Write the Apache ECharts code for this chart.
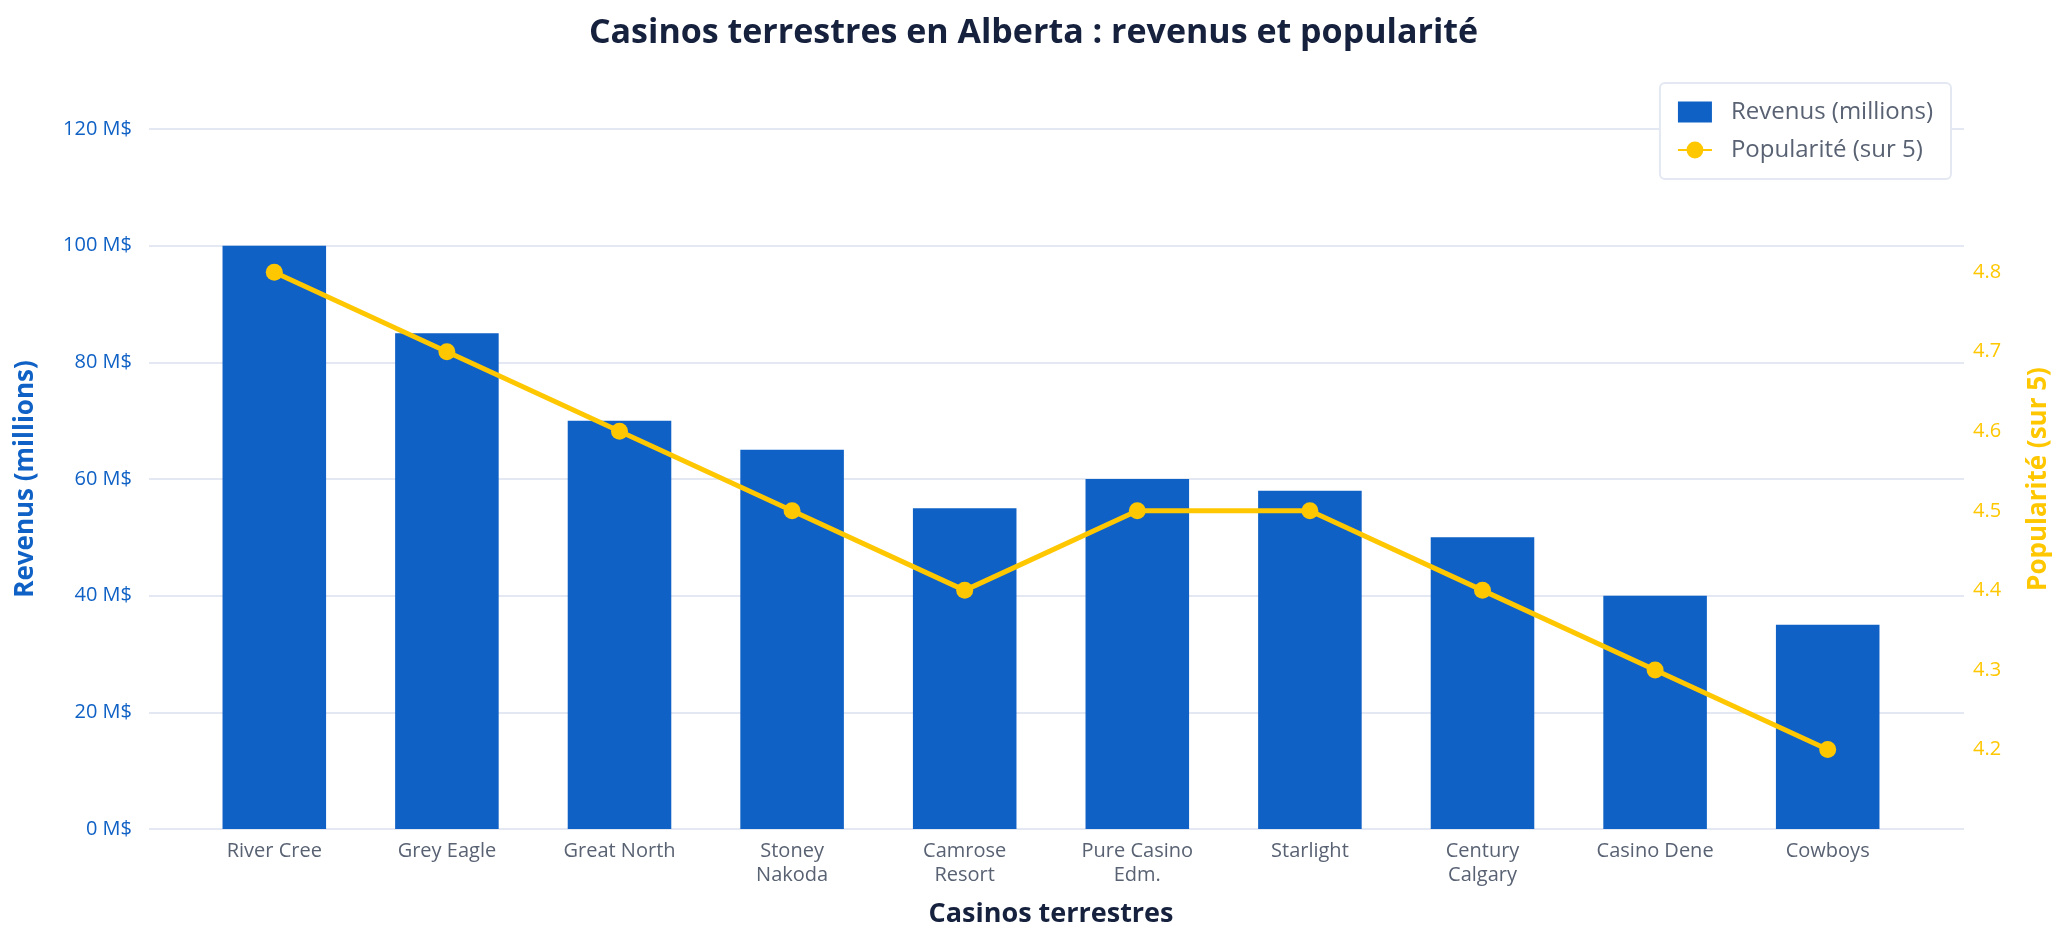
<!DOCTYPE html>
<html lang="fr">
<head>
    <meta charset="UTF-8">
    <title>Casinos terrestres en Alberta</title>
    <script src="https://cdn.jsdelivr.net/npm/echarts@6/dist/echarts.min.js"></script>
    <style>
        html, body { margin: 0; padding: 0; background: #fff; }
        #main { width: 2067px; height: 942px; }
    </style>
</head>
<body>
<div id="main"></div>
<script>
    var casinos = ['River Cree', 'Grey Eagle', 'Great North', 'Stoney\nNakoda', 'Camrose\nResort',
        'Pure Casino\nEdm.', 'Starlight', 'Century\nCalgary', 'Casino Dene', 'Cowboys'];
    var revenus = [100, 85, 70, 65, 55, 60, 58, 50, 40, 35];
    var popularite = [4.8, 4.7, 4.6, 4.5, 4.4, 4.5, 4.5, 4.4, 4.3, 4.2];

    var font = "'Open Sans', sans-serif";
    var blue = '#0f61c5';
    var yellow = '#ffc700';
    var gridColor = '#e3e8f2';

    var chart = echarts.init(document.getElementById('main'));
    chart.setOption({
        animation: false,
        textStyle: { fontFamily: font },
        title: {
            text: 'Casinos terrestres en Alberta : revenus et popularité',
            left: 'center',
            top: 11,
            textStyle: { fontSize: 34, fontWeight: 'bold', color: '#16213e', fontFamily: font }
        },
        legend: {
            right: 116,
            top: 83,
            orient: 'vertical',
            padding: [17, 18, 17, 17],
            itemGap: 14,
            itemWidth: 34,
            itemHeight: 21,
            borderColor: gridColor,
            borderWidth: 2,
            borderRadius: 5,
            backgroundColor: '#fff',
            textStyle: { fontSize: 24, color: '#596273', fontFamily: font, padding: [0, 0, 0, 14] },
            data: [
                { name: 'Revenus (millions)', icon: 'rect' },
                { name: 'Popularité (sur 5)' }
            ]
        },
        grid: { left: 188, right: 153, top: 129, bottom: 113 },
        xAxis: {
            type: 'category',
            data: casinos,
            name: 'Casinos terrestres',
            nameLocation: 'middle',
            nameGap: 72,
            nameTextStyle: { fontSize: 27, fontWeight: 'bold', color: '#16213e' },
            axisLine: { show: false },
            axisTick: { show: false },
            axisLabel: { fontSize: 20, color: '#596273', margin: 10, lineHeight: 24 }
        },
        yAxis: [
            {
                type: 'value',
                min: 0,
                max: 120,
                interval: 20,
                name: 'Revenus (millions)',
                nameLocation: 'middle',
                nameGap: 149,
                nameTextStyle: { fontSize: 26, fontWeight: 'bold', color: blue },
                axisLabel: { formatter: '{value} M$', fontSize: 20, color: blue, margin: 56 },
                splitLine: { lineStyle: { color: gridColor, width: 2 } },
                axisLine: { show: false },
                axisTick: { show: true, length: 39, lineStyle: { color: gridColor, width: 2 } }
            },
            {
                type: 'value',
                min: 4.1,
                max: 4.98,
                interval: 0.1,
                name: 'Popularité (sur 5)',
                nameLocation: 'middle',
                nameGap: 112,
                nameTextStyle: { fontSize: 26, fontWeight: 'bold', color: yellow },
                axisLabel: {
                    fontSize: 20,
                    color: yellow,
                    margin: 59,
                    formatter: function (v) {
                        return (v > 4.15 && v < 4.85) ? v.toFixed(1) : '';
                    }
                },
                splitLine: { show: false },
                axisLine: { show: false },
                axisTick: { show: false }
            },
            {
                // same scale as revenue, only to extend the grid lines to the right
                type: 'value',
                position: 'right',
                min: 0,
                max: 120,
                interval: 20,
                axisLabel: { show: false },
                splitLine: { show: false },
                axisLine: { show: false },
                axisTick: { show: true, length: 50, lineStyle: { color: gridColor, width: 2 } }
            }
        ],
        series: [
            {
                name: 'Revenus (millions)',
                type: 'bar',
                data: revenus,
                barWidth: '60%',
                itemStyle: { color: blue }
            },
            {
                name: 'Popularité (sur 5)',
                type: 'line',
                yAxisIndex: 1,
                data: popularite,
                symbol: 'circle',
                symbolSize: 17,
                lineStyle: { color: yellow, width: 5 },
                itemStyle: { color: yellow }
            }
        ]
    });
</script>
</body>
</html>
